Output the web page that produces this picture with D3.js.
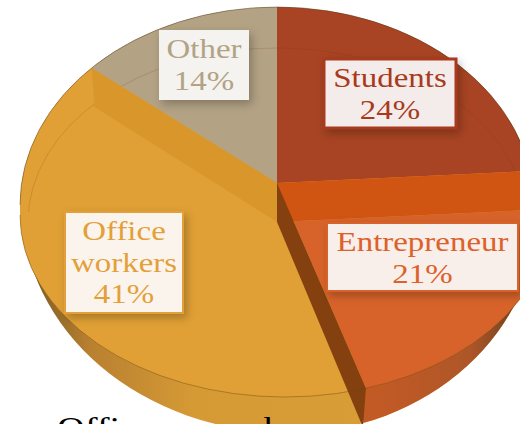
<!DOCTYPE html>
<html>
<head>
<meta charset="utf-8">
<script src="https://cdn.jsdelivr.net/npm/d3@7"></script>
<style>
  html, body { margin: 0; padding: 0; background: #fff; }
  svg { display: block; }
</style>
</head>
<body>
<div id="chart"></div>
<script>
// data
const categories = ["Students", "Entrepreneur", "Office workers", "Other"];
const shares = [24, 21, 41, 14];
const labelLines = [["Students"], ["Entrepreneur"], ["Office", "workers"], ["Other"]];
const title = "Office workers";

const width = 520;
const height = 424;

// colours per slice
const topColor = ["#a84423", "#d7632a", "#e0a035", "#b3a284"];
const textColor = ["#a83a1e", "#dc612a", "#e3a03a", "#b3a284"];
const borderColor = ["#a83a1e", "#d9622a", "#e3a03a", "#f4f3f0"];
const boxFill = ["#f4ecea", "#f8eeea", "#fbf4ec", "#f4f3f0"];

// label boxes: x, y, w, h, and first baseline
const boxes = [
  { x: 324, y: 59, w: 132, h: 69, base: 87 },
  { x: 327, y: 223, w: 191, h: 68, base: 251 },
  { x: 65, y: 212, w: 118, h: 101, base: 240 },
  { x: 160, y: 31, w: 88, h: 68, base: 58 }
];
const lineGap = 31.5;

// the fake 3D geometry
const apex = [277, 183];
const drop = 39;          // how far the exploded floor sits under the top edge
const squash = 0.75;
const back = { cx: 277, cy: 205, rx: 257, ry: 198 };
const front = { cx: 285, cy: 215, rx: 265, ry: 182 };
const inner = { cx: 277, cy: 222, rx: 249, ry: 174 };

const surfacePath = `M${back.cx - back.rx},${back.cy}A${back.rx},${back.ry} 0 0 1 ${back.cx + back.rx},${back.cy}`
  + `L${front.cx + front.rx},${front.cy}A${front.rx},${front.ry} 0 0 1 ${front.cx - front.rx},${front.cy}Z`;
const frontEdge = `M${front.cx + front.rx},${front.cy}A${front.rx},${front.ry} 0 0 1 ${front.cx - front.rx},${front.cy}`;
const sidePath = "M22,205L540,205A250,228 0 0 1 290,433A268,228 0 0 1 22,205Z";

const arcs = d3.pie().sort(null).value(d => d)(shares);

const dir = a => [Math.sin(a), -Math.cos(a) * squash];

// where a ray from the apex meets an ellipse
function hit(a, e) {
  const [dx, dy] = dir(a);
  const px = (apex[0] - e.cx) / e.rx, py = (apex[1] - e.cy) / e.ry;
  const qx = dx / e.rx, qy = dy / e.ry;
  const A = qx * qx + qy * qy, B = 2 * (px * qx + py * qy), C = px * px + py * py - 1;
  const t = (-B + Math.sqrt(B * B - 4 * A * C)) / (2 * A);
  return [apex[0] + dx * t, apex[1] + dy * t];
}

const poly = d3.line();

function wedge(a0, a1, o) {
  const d0 = dir(a0), d1 = dir(a1);
  return poly([o, [o[0] + d0[0] * 2000, o[1] + d0[1] * 2000], [o[0] + d1[0] * 2000, o[1] + d1[1] * 2000]]) + "Z";
}

const svg = d3.select("#chart").append("svg")
    .attr("width", width)
    .attr("height", height)
    .attr("viewBox", [0, 0, width, height]);

const defs = svg.append("defs");
defs.append("clipPath").attr("id", "surface").append("path").attr("d", surfacePath);
defs.append("clipPath").attr("id", "side").append("path").attr("d", sidePath);
defs.append("clipPath").attr("id", "upper").append("rect")
    .attr("x", 0).attr("y", 0).attr("width", width).attr("height", 212);

function gradient(id, stops) {
  const g = defs.append("linearGradient").attr("id", id)
      .attr("gradientUnits", "userSpaceOnUse")
      .attr("x1", 20).attr("x2", 520).attr("y1", 0).attr("y2", 0);
  stops.forEach(s => g.append("stop").attr("offset", s[0]).attr("stop-color", s[1]));
}
gradient("sideOffice", [[0, "#4a3a18"], [0.05, "#8a6428"], [0.14, "#b98030"], [0.35, "#d69a35"], [1, "#dca03a"]]);
gradient("sideEntre", [[0, "#c25a25"], [0.72, "#c25a25"], [0.9, "#ae5628"], [0.98, "#7a4522"], [1, "#6a3d20"]]);

// side wall
svg.append("path").attr("d", sidePath).attr("fill", "url(#sideOffice)");
svg.append("path")
    .attr("clip-path", "url(#side)")
    .attr("d", wedge(arcs[1].startAngle, arcs[1].endAngle, [apex[0], apex[1] + drop]))
    .attr("fill", "url(#sideEntre)");

// top surface
const surface = svg.append("g").attr("clip-path", "url(#surface)");
surface.append("path").attr("d", surfacePath).attr("fill", topColor[2]);
surface.selectAll("path.slice")
  .data(arcs)
  .join("path")
    .attr("class", "slice")
    .attr("d", (d, i) => wedge(d.startAngle, d.endAngle, i === 1 ? [apex[0], apex[1] + drop] : apex))
    .attr("fill", (d, i) => topColor[i]);

surface.append("g").attr("clip-path", "url(#upper)")
  .append("ellipse")
    .attr("cx", inner.cx).attr("cy", inner.cy)
    .attr("rx", inner.rx).attr("ry", inner.ry)
    .attr("fill", "none")
    .attr("stroke", "#7a3a10")
    .attr("stroke-opacity", 0.18);

// inner walls showing where the slices are pulled apart
const walls = [
  { a: arcs[0].endAngle, fill: "#d05412", e: back, dx: 0 },
  { a: arcs[1].endAngle, fill: "#84400f", e: front, dx: -3 },
  { a: arcs[2].endAngle, fill: "#d9962a", e: back, dx: 3 }
];
svg.selectAll("path.wall")
  .data(walls)
  .join("path")
    .attr("class", "wall")
    .attr("d", w => {
      const p = hit(w.a, w.e);
      return poly([apex, p, [p[0] + w.dx, p[1] + drop], [apex[0], apex[1] + drop]]) + "Z";
    })
    .attr("fill", w => w.fill);

// edges
svg.append("path").attr("d", frontEdge)
    .attr("fill", "none").attr("stroke", "#6a4a10").attr("stroke-opacity", 0.45);
svg.append("path")
    .attr("d", `M${back.cx - back.rx},${back.cy}A${back.rx},${back.ry} 0 0 1 ${back.cx + back.rx},${back.cy}`)
    .attr("fill", "none").attr("stroke", "#4a3a20").attr("stroke-opacity", 0.45);

// title runs off the bottom of the picture, only its top shows
svg.append("text")
    .attr("transform", "translate(57,439) scale(1.2,1)")
    .attr("font-family", "Liberation Serif")
    .attr("font-size", 32)
    .attr("word-spacing", 33)
    .attr("fill", "#000")
    .text(title);

// labels
const label = svg.selectAll("g.label")
  .data(arcs)
  .join("g")
    .attr("class", "label");

label.append("rect")
    .attr("x", (d, i) => boxes[i].x)
    .attr("y", (d, i) => boxes[i].y)
    .attr("width", (d, i) => boxes[i].w)
    .attr("height", (d, i) => boxes[i].h)
    .attr("fill", (d, i) => boxFill[i])
    .attr("stroke", (d, i) => borderColor[i])
    .attr("stroke-width", (d, i) => i === 0 ? 3 : 2)
    .style("filter", "drop-shadow(3px 4px 4px rgba(0,0,0,0.25))");

label.each(function (d, i) {
  const lines = labelLines[i].concat([d.data + "%"]);
  const cx = boxes[i].x + boxes[i].w / 2;
  d3.select(this).selectAll("text")
    .data(lines)
    .join("text")
      .attr("transform", (t, j) => `translate(${cx},${boxes[i].base + j * lineGap}) scale(1.22,1)`)
      .attr("text-anchor", "middle")
      .attr("font-family", "Liberation Serif")
      .attr("font-size", 27)
      .attr("fill", textColor[i])
      .text(t => t);
});
</script>
</body>
</html>
